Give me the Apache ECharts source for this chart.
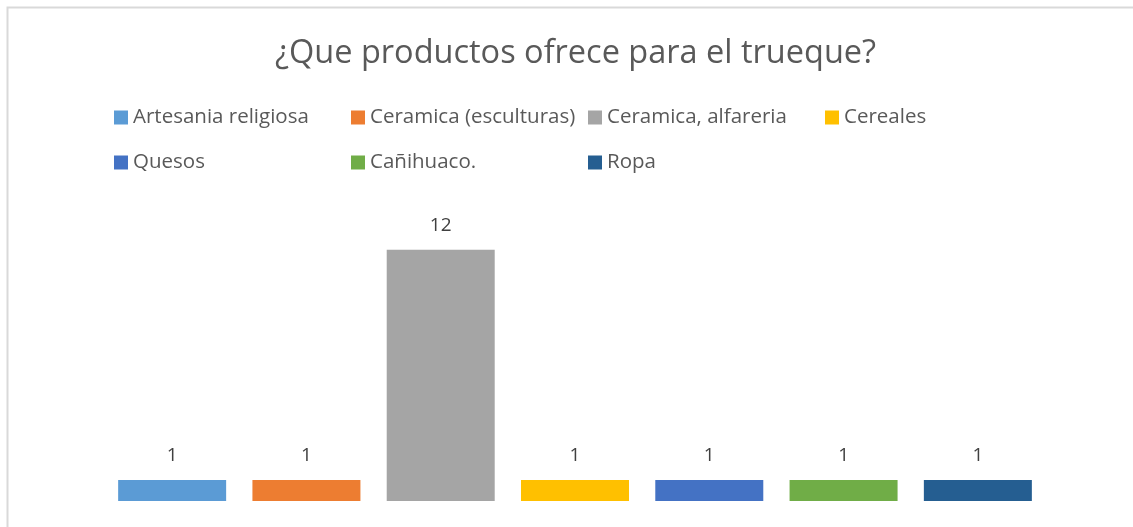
<!DOCTYPE html>
<html>
<head>
<meta charset="utf-8">
<script src="https://cdn.jsdelivr.net/npm/echarts@6/dist/echarts.min.js"></script>
<style>
    html, body { margin: 0; padding: 0; background: #fff; }
    #chart { width: 1133px; height: 527px; }
</style>
</head>
<body>
<div id="chart"></div>
<script>
// datos del grafico
var categorias = ['Artesania religiosa', 'Ceramica (esculturas)', 'Ceramica, alfareria', 'Cereales', 'Quesos', 'Cañihuaco.', 'Ropa'];
var valores = [1, 1, 12, 1, 1, 1, 1];
var colores = ['#5b9bd5', '#ed7d31', '#a5a5a5', '#ffc000', '#4472c4', '#70ad47', '#255e91'];

var fuente = 'Open Sans';

// cada producto es su propia serie (para la leyenda)
var series = [];
for (var i = 0; i < categorias.length; i++) {
    var datos = [];
    for (var j = 0; j < categorias.length; j++) {
        datos.push(j === i ? valores[i] : null);
    }
    series.push({
        name: categorias[i],
        type: 'bar',
        data: datos,
        barWidth: 108,
        barGap: '-100%',
        itemStyle: { color: colores[i] },
        label: {
            show: true,
            position: 'top',
            distance: 15,
            color: '#404040',
            fontFamily: fuente,
            fontSize: 19
        }
    });
}

// leyenda en columnas (como en Excel): una leyenda vertical por columna
function leyenda(left, nombres) {
    return {
        orient: 'vertical',
        left: left,
        top: 102,
        data: nombres,
        itemWidth: 14,
        itemHeight: 14,
        itemGap: 24,
        icon: 'rect',
        selectedMode: false,
        textStyle: {
            color: '#595959',
            fontFamily: fuente,
            fontSize: 20.5
        }
    };
}

var option = {
    animation: false,
    backgroundColor: '#fff',
    title: {
        text: '¿Que productos ofrece para el trueque?',
        left: 270,
        top: 32,
        textStyle: {
            color: '#595959',
            fontFamily: fuente,
            fontSize: 32.5,
            fontWeight: 'normal'
        }
    },
    legend: [
        leyenda(109, [categorias[0], categorias[4]]),
        leyenda(346, [categorias[1], categorias[5]]),
        leyenda(583, [categorias[2], categorias[6]]),
        leyenda(820, [categorias[3]])
    ],
    grid: {
        left: 105,
        right: 88,
        top: 208,
        bottom: 26
    },
    xAxis: {
        type: 'category',
        data: categorias,
        show: false
    },
    yAxis: {
        type: 'value',
        min: 0,
        max: 14,
        show: false
    },
    graphic: [{
        type: 'rect',
        shape: { x: 7.5, y: 7.5, width: 1140, height: 530 },
        style: { fill: null, stroke: '#d9d9d9', lineWidth: 2 },
        silent: true
    }],
    series: series
};

echarts.init(document.getElementById('chart')).setOption(option);
</script>
</body>
</html>
